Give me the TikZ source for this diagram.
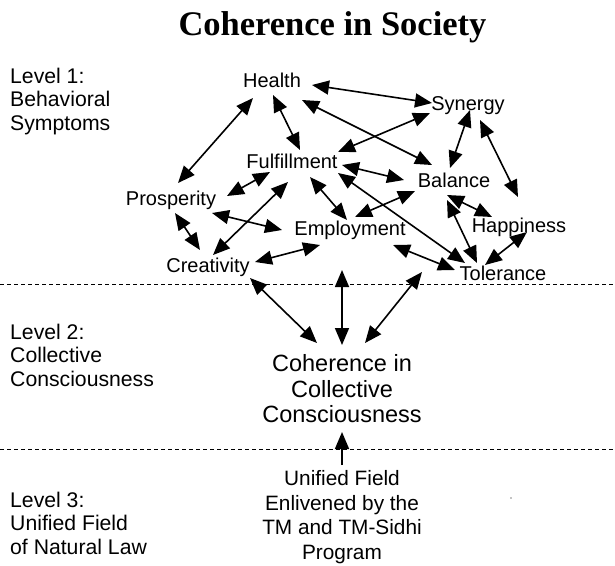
\documentclass[tikz,border=0pt]{standalone}
\usepackage{fontspec}
\setmainfont{Liberation Sans}
\newfontfamily\titlefont{Liberation Serif}
\usetikzlibrary{arrows.meta,calc}
\tikzset{
  lbl/.style={font=\fontsize{20}{24}\selectfont, inner sep=0pt, text height=15pt, text depth=4pt, anchor=center},
  lvl/.style={font=\fontsize{21.2}{23.5}\selectfont, inner sep=0pt, align=left, anchor=base west},
  dbl/.style={line width=1.6pt, {Triangle[length=17pt,width=14pt]}-{Triangle[length=17pt,width=14pt]}},
  sgl/.style={line width=1.6pt, -{Triangle[length=17pt,width=14pt]}},
  sep/.style={line width=0.9pt, dash pattern=on 4pt off 3pt}
}
\begin{document}
\begin{tikzpicture}[x=1pt,y=-1pt]
\useasboundingbox (0,0) rectangle (615,565);
\node[font=\titlefont\bfseries\fontsize{34.5}{38}\selectfont, anchor=base, inner sep=0pt] (title) at (332.5,35) {Coherence in Society};
% level labels
\node[lvl] (lv1) at (10,130) {Level 1:\\Behavioral\\Symptoms};
\node[lvl] (lv2) at (10,386) {Level 2:\\Collective\\Consciousness};
\node[lvl] (lv3) at (10,554) {Level 3:\\Unified Field\\of Natural Law};
% separators
\coordinate (s1l) at (0,284); \coordinate (s1r) at (615,284);
\coordinate (s2l) at (0,449); \coordinate (s2r) at (615,449);
\draw[sep] (s1l) -- (s1r);
\draw[sep] (s2l) -- (s2r);
% symptom nodes
\node[lbl] (Health) at (272,81.5) {Health};
\node[lbl] (Synergy) at (468,104.5) {Synergy};
\node[lbl] (Fulfillment) at (292,162.5) {Fulfillment};
\node[lbl] (Balance) at (454,181.5) {Balance};
\node[lbl] (Prosperity) at (171,199.5) {Prosperity};
\node[lbl] (Happiness) at (519,226.5) {Happiness};
\node[lbl] (Employment) at (350,229.5) {Employment};
\node[lbl] (Creativity) at (208,266.5) {Creativity};
\node[lbl] (Tolerance) at (503,274.5) {Tolerance};
\node[font=\fontsize{23.5}{25.5}\selectfont, align=center, inner sep=0pt] (Coh) at (342,389) {Coherence in\\Collective\\Consciousness};
\node[font=\fontsize{20.8}{24.5}\selectfont, align=center, inner sep=0pt] (Uni) at (342,517) {Unified Field\\Enlivened by the\\TM and TM-Sidhi\\Program};
% connectors
\draw[dbl] ($(Health)+(40,3.5)$) -- ($(Synergy)+(-36,-1.5)$);
\draw[dbl] ($(Health)+(-19,16.5)$) -- ($(Prosperity)+(7,-16.5)$);
\draw[dbl] ($(Health)+(1,13.5)$) -- ($(Fulfillment)+(8,-12.5)$);
\draw[dbl] ($(Health)+(30,18.5)$) -- ($(Balance)+(-22,-16.5)$);
\draw[dbl] ($(Synergy)+(-38,8.5)$) -- ($(Fulfillment)+(46,-10.5)$);
\draw[dbl] ($(Fulfillment)+(50,2.5)$) -- ($(Balance)+(-50,-1.5)$);
\draw[dbl] ($(Fulfillment)+(-22,9.5)$) -- ($(Prosperity)+(56,-3.5)$);
\draw[dbl] ($(Fulfillment)+(-4,19.5)$) -- ($(Creativity)+(5,-11.5)$);
\draw[dbl] ($(Fulfillment)+(18,14.5)$) -- ($(Employment)+(-3,-9.5)$);
\draw[dbl] ($(Fulfillment)+(46,10.5)$) -- ($(Tolerance)+(-38,-11.5)$);
\draw[dbl] ($(Synergy)+(2,5.5)$) -- ($(Balance)+(-4,-13.5)$);
\draw[dbl] ($(Synergy)+(12,15.5)$) -- ($(Happiness)+(-1,-29.5)$);
\draw[dbl] ($(Employment)+(5,-12.5)$) -- ($(Balance)+(-39,9.5)$);
\draw[dbl] ($(Balance)+(-7,13.5)$) -- ($(Happiness)+(-27,-9.5)$);
\draw[dbl] ($(Balance)+(-7,18.5)$) -- ($(Tolerance)+(-26,-11.5)$);
\draw[dbl] ($(Happiness)+(8,5.5)$) -- ($(Tolerance)+(-18,-9.5)$);
\draw[dbl] ($(Employment)+(43,15.5)$) -- ($(Tolerance)+(-48,-4.5)$);
\draw[dbl] ($(Prosperity)+(4,13.5)$) -- ($(Creativity)+(-8,-16.5)$);
\draw[dbl] ($(Prosperity)+(41,13.5)$) -- ($(Employment)+(-68,0.5)$);
\draw[dbl] ($(Creativity)+(47,-4.5)$) -- ($(Employment)+(-30,15.5)$);
\draw[dbl] ($(Creativity)+(42,11.5)$) -- ($(Coh)+(-25,-46)$);
\draw[dbl] ($(Employment)+(-8,40.5)$) -- ($(Coh)+(0,-44)$);
\draw[dbl] ($(Tolerance)+(-81,-2.5)$) -- ($(Coh)+(23,-46)$);
\draw[sgl] ($(Uni)+(0,-52)$) -- ($(Coh)+(0,43)$);
\fill (511,498) circle (0.6);
\end{tikzpicture}
\end{document}
